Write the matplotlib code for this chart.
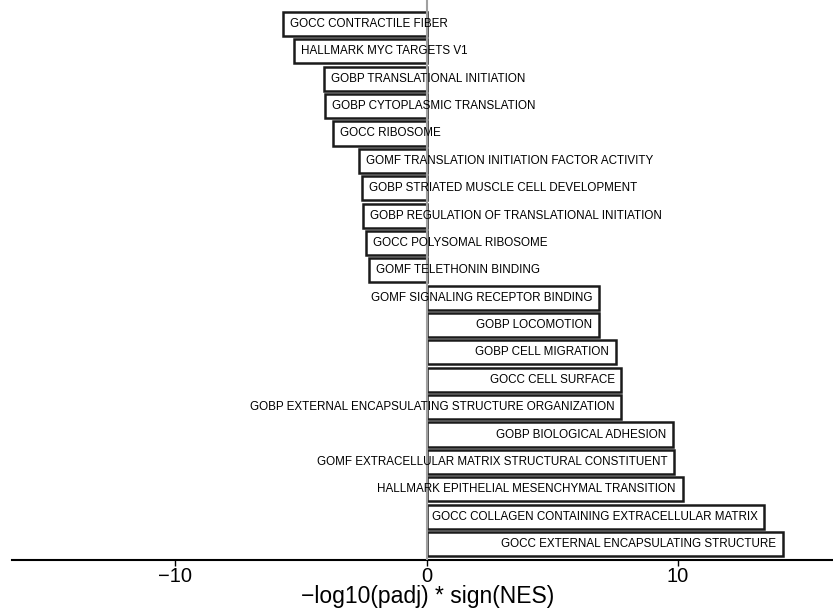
import matplotlib.pyplot as plt
import numpy as np

# pathways, top to bottom as shown
pathways = [
    "GOCC CONTRACTILE FIBER",
    "HALLMARK MYC TARGETS V1",
    "GOBP TRANSLATIONAL INITIATION",
    "GOBP CYTOPLASMIC TRANSLATION",
    "GOCC RIBOSOME",
    "GOMF TRANSLATION INITIATION FACTOR ACTIVITY",
    "GOBP STRIATED MUSCLE CELL DEVELOPMENT",
    "GOBP REGULATION OF TRANSLATIONAL INITIATION",
    "GOCC POLYSOMAL RIBOSOME",
    "GOMF TELETHONIN BINDING",
    "GOMF SIGNALING RECEPTOR BINDING",
    "GOBP LOCOMOTION",
    "GOBP CELL MIGRATION",
    "GOCC CELL SURFACE",
    "GOBP EXTERNAL ENCAPSULATING STRUCTURE ORGANIZATION",
    "GOBP BIOLOGICAL ADHESION",
    "GOMF EXTRACELLULAR MATRIX STRUCTURAL CONSTITUENT",
    "HALLMARK EPITHELIAL MESENCHYMAL TRANSITION",
    "GOCC COLLAGEN CONTAINING EXTRACELLULAR MATRIX",
    "GOCC EXTERNAL ENCAPSULATING STRUCTURE",
]
score = [-5.71, -5.27, -4.07, -4.05, -3.72, -2.70, -2.56, -2.54, -2.42, -2.27,
         6.86, 6.86, 7.53, 7.75, 7.75, 9.81, 9.85, 10.19, 13.43, 14.18]

plt.rcParams['font.family'] = ['Liberation Sans', 'DejaVu Sans']

fig = plt.figure(figsize=(8.33, 6.10), dpi=100)
ax = fig.add_axes([12/833, 50/610, 1 - 12/833, 560/610])

y = np.arange(len(pathways))
ax.barh(y, score, height=0.88, color="white", edgecolor="#1a1a1a", linewidth=1.8, zorder=2)
ax.axvline(0, color="#a0a0a0", linewidth=1.5, zorder=3)

for yi, v, name in zip(y, score, pathways):
    if v < 0:
        ax.annotate(name, (v, yi), xytext=(5, 0), textcoords="offset points",
                    ha="left", va="center", fontsize=8.35, zorder=4)
    else:
        ax.annotate(name, (v, yi), xytext=(-5, 0), textcoords="offset points",
                    ha="right", va="center", fontsize=8.35, zorder=4)

ax.set_xlim(-16.48, 16.16)
ax.set_ylim(len(pathways) - 1 + 0.585, -0.877)
ax.set_yticks([])
ax.set_xticks([-10, 0, 10])
ax.set_xticklabels(["\u221210", "0", "10"])
ax.tick_params(axis="x", labelsize=14.5, length=4, width=1, pad=1)
for s in ["top", "right", "left"]:
    ax.spines[s].set_visible(False)
ax.spines["bottom"].set_linewidth(1.5)
ax.set_xlabel("\u2212log10(padj) * sign(NES)", fontsize=16.5, labelpad=0)
ax.xaxis.set_label_coords(0.506, -0.044, transform=ax.transAxes)
ax.xaxis.label.set_va("top")

fig.savefig("out.png", dpi=100)
